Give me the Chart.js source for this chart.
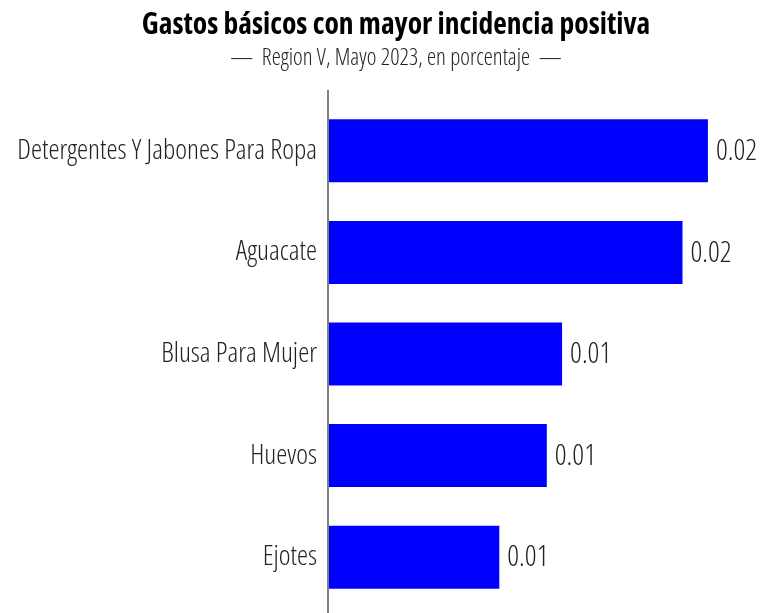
<!DOCTYPE html>
<html>
<head>
<meta charset="utf-8">
<script src="https://cdn.jsdelivr.net/npm/chart.js@4/dist/chart.umd.min.js"></script>
<style>
  html, body { margin: 0; padding: 0; background: #ffffff; }
  #wrap { width: 769px; height: 613px; }
</style>
</head>
<body>
<div id="wrap"><canvas id="c" width="769" height="613"></canvas></div>
<script>
const categories = [
  "Detergentes Y Jabones Para Ropa",
  "Aguacate",
  "Blusa Para Mujer",
  "Huevos",
  "Ejotes"
];
const values = [0.0224, 0.0209, 0.0138, 0.0129, 0.0101];
const titleText = "Gastos básicos con mayor incidencia positiva";
const subtitleText = "—  Region V, Mayo 2023, en porcentaje  —";

const FONT = "'Open Sans', sans-serif";

const axisLinePlugin = {
  id: 'axisLine',
  afterDatasetsDraw(chart) {
    const ctx = chart.ctx;
    const x = chart.chartArea.left;
    ctx.save();
    ctx.strokeStyle = '#808080';
    ctx.lineWidth = 2;
    ctx.beginPath();
    ctx.moveTo(x, 90);
    ctx.lineTo(x, chart.height);
    ctx.stroke();
    ctx.restore();
  }
};

const valueLabelPlugin = {
  id: 'valueLabels',
  afterDatasetsDraw(chart) {
    const ctx = chart.ctx;
    const meta = chart.getDatasetMeta(0);
    ctx.save();
    ctx.font = "condensed 300 29px " + FONT;
    ctx.fillStyle = '#222222';
    ctx.textAlign = 'left';
    ctx.textBaseline = 'middle';
    meta.data.forEach((bar, i) => {
      const v = chart.data.datasets[0].data[i];
      ctx.fillText(v.toFixed(2), bar.x + 8, bar.y + 1);
    });
    ctx.restore();
  }
};

new Chart(document.getElementById('c'), {
  type: 'bar',
  data: {
    labels: categories,
    datasets: [{
      data: values,
      backgroundColor: '#0000ff',
      borderWidth: 0,
      barPercentage: 0.62,
      categoryPercentage: 1.0
    }]
  },
  options: {
    indexAxis: 'y',
    responsive: false,
    animation: false,
    devicePixelRatio: 1,
    layout: { padding: { left: 0, right: -23, top: 0, bottom: 5 } },
    scales: {
      x: {
        display: false,
        min: 0,
        max: 0.026
      },
      y: {
        grid: { display: false, drawTicks: false },
        border: { display: false },
        ticks: {
          color: '#222222',
          padding: 11,
          font: { family: FONT, size: 28, weight: 'condensed 300' }
        },
        afterFit(scale) {
          scale.width = 328;
          scale.paddingTop = 0;
          scale.paddingBottom = 0;
        }
      }
    },
    plugins: {
      legend: { display: false },
      tooltip: { enabled: false },
      title: {
        display: true,
        text: titleText,
        color: '#000000',
        font: { family: FONT, size: 29.5, weight: 'condensed bold' },
        padding: { top: 7.5, bottom: 2 }
      },
      subtitle: {
        display: true,
        text: subtitleText,
        color: '#222222',
        font: { family: FONT, size: 23, weight: 'condensed 300' },
        padding: { top: 0, bottom: 27.5 }
      }
    }
  },
  plugins: [axisLinePlugin, valueLabelPlugin]
});
</script>
</body>
</html>
